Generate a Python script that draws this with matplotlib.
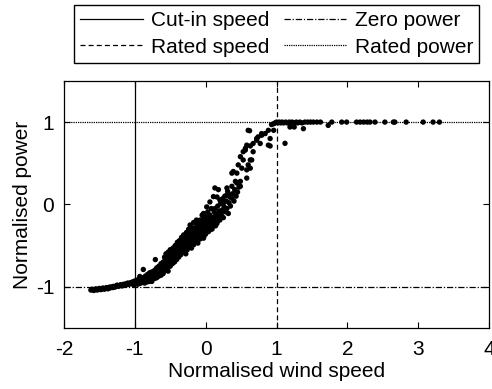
import matplotlib
matplotlib.use("Agg")
import matplotlib.pyplot as plt

plt.rcParams['font.family'] = ['Liberation Sans', 'DejaVu Sans']
plt.rcParams['axes.unicode_minus'] = False

# scatter of normalised wind speed vs normalised power
wind_speed = [
    # low tail
    -1.62, -1.60, -1.58, -1.56, -1.55, -1.53, -1.51, -1.50, -1.48, -1.46,
    -1.45, -1.43, -1.41, -1.40, -1.38, -1.36, -1.35, -1.33, -1.31, -1.30,
    -1.28, -1.26, -1.25, -1.23, -1.21, -1.20, -1.18, -1.16, -1.15, -1.13,
    -1.11, -1.10, -1.08, -1.06, -1.05, -1.03, -1.02, -1.01, -1.00, -0.99,
    # -1.0 .. -0.6
    -0.98, -0.97, -0.96, -0.95, -0.94, -0.93, -0.93, -0.92, -0.91, -0.90,
    -0.89, -0.88, -0.88, -0.87, -0.86, -0.86, -0.85, -0.84, -0.83, -0.82,
    -0.82, -0.81, -0.80, -0.79, -0.79, -0.78, -0.77, -0.76, -0.76, -0.75,
    -0.74, -0.73, -0.72, -0.71, -0.71, -0.70, -0.69, -0.69, -0.68, -0.67,
    -0.66, -0.66, -0.65, -0.64, -0.63, -0.63, -0.62, -0.61, -0.60, -0.60,
    -0.59,
    # -0.6 .. -0.3
    -0.58, -0.58, -0.57, -0.56, -0.56, -0.55, -0.54, -0.53, -0.53, -0.52,
    -0.51, -0.50, -0.50, -0.49, -0.48, -0.47, -0.46, -0.46, -0.45, -0.44,
    -0.43, -0.43, -0.42, -0.41, -0.40, -0.40, -0.39, -0.38, -0.37, -0.37,
    -0.36, -0.35, -0.34, -0.34, -0.33, -0.32, -0.31, -0.31, -0.30, -0.29,
    -0.28,
    # -0.3 .. 0.0
    -0.27, -0.27, -0.26, -0.25, -0.24, -0.23, -0.22, -0.22, -0.21, -0.20,
    -0.20, -0.19, -0.18, -0.17, -0.17, -0.16, -0.15, -0.15, -0.14, -0.13,
    -0.13, -0.12, -0.11, -0.11, -0.10, -0.09, -0.08, -0.08, -0.08, -0.07,
    -0.06, -0.05, -0.05, -0.04, -0.03, -0.03, -0.02, -0.01, -0.01, 0.00,
    0.01, 0.015, 0.015,
    # extra points filling the dense band
    -0.95, -0.92, -0.90, -0.87, -0.85, -0.84, -0.81, -0.80, -0.78, -0.77,
    -0.75, -0.73, -0.72, -0.70, -0.68, -0.67, -0.65, -0.64, -0.62, -0.61,
    -0.59, -0.57, -0.57, -0.55, -0.55, -0.54, -0.52, -0.51, -0.51, -0.49,
    -0.48, -0.47, -0.45, -0.45, -0.44, -0.42, -0.42, -0.41, -0.39, -0.39,
    -0.38, -0.36, -0.36, -0.35, -0.33, -0.33, -0.32, -0.30, -0.30, -0.29,
    -0.28, -0.26, -0.26, -0.25, -0.24, -0.23, -0.21, -0.21, -0.19, -0.18,
    -0.18, -0.16, -0.14, -0.14, -0.12, -0.12, -0.10, -0.10, -0.09, -0.07,
    -0.06, -0.04, -0.04, -0.02, -0.02, 0.00, 0.01, 0.03, 0.04, 0.06,
    0.07, 0.09, 0.10, 0.12, 0.14, 0.17, 0.19,
    # 0.0 .. 0.47
    0.02, 0.03, 0.04, 0.05, 0.06, 0.06, 0.07, 0.08, 0.09, 0.10,
    0.11, 0.11, 0.12, 0.13, 0.13, 0.14, 0.15, 0.16, 0.16, 0.17,
    0.18, 0.18, 0.19, 0.20, 0.20, 0.21, 0.22, 0.23, 0.24, 0.25,
    0.25, 0.26, 0.27, 0.28, 0.29, 0.30, 0.30, 0.30, 0.31, 0.32,
    0.33, 0.34, 0.345, 0.35, 0.37, 0.37, 0.37, 0.38, 0.39, 0.40,
    0.41, 0.42, 0.43, 0.44, 0.44, 0.45, 0.46, 0.47,
    # 0.47 .. 0.96 (sparse upper part)
    0.49, 0.49, 0.49, 0.51, 0.53, 0.53, 0.56, 0.56, 0.58, 0.58,
    0.58, 0.60, 0.60, 0.62, 0.63, 0.63, 0.63, 0.65, 0.67, 0.67,
    0.72, 0.72, 0.74, 0.77, 0.79, 0.79, 0.84, 0.885, 0.885, 0.91,
    0.91, 0.93, 0.96,
    # plateau
    0.96, 0.98, 1.00, 1.02, 1.04, 1.06, 1.08, 1.10, 1.12, 1.13,
    1.15, 1.18, 1.19, 1.20, 1.22, 1.25, 1.26, 1.28, 1.30, 1.33,
    1.36, 1.38, 1.40, 1.44, 1.48, 1.52, 1.57, 1.62, 1.73, 1.78,
    1.92, 1.99, 2.13, 2.18, 2.23, 2.28, 2.32, 2.39, 2.53, 2.65,
    2.67, 2.83, 3.07, 3.21, 3.30,
]
power = [
    # low tail
    -1.04, -1.03, -1.045, -1.035, -1.025, -1.04, -1.03, -1.02, -1.035, -1.025,
    -1.015, -1.03, -1.02, -1.01, -1.025, -1.005, -1.015, -1.00, -1.01, -0.995,
    -1.005, -0.99, -0.98, -0.995, -0.985, -0.975, -0.99, -0.97, -0.98, -0.965,
    -0.975, -0.955, -0.97, -0.95, -0.96, -0.94, -0.975, -0.955, -0.93, -0.96,
    # -1.0 .. -0.6
    -0.94, -0.92, -0.97, -0.95, -0.91, -0.875, -0.96, -0.93, -0.90, -0.95,
    -0.92, -0.79, -0.89, -0.94, -0.955, -0.90, -0.87, -0.92, -0.89, -0.85,
    -0.94, -0.91, -0.87, -0.935, -0.83, -0.89, -0.86, -0.935, -0.82, -0.90,
    -0.85, -0.88, -0.80, -0.67, -0.86, -0.83, -0.77, -0.89, -0.81, -0.85,
    -0.75, -0.87, -0.79, -0.83, -0.72, -0.86, -0.77, -0.81, -0.70, -0.84,
    -0.75,
    # -0.6 .. -0.3
    -0.64, -0.79, -0.71, -0.60, -0.76, -0.67, -0.73, -0.81, -0.58, -0.64,
    -0.70, -0.75, -0.55, -0.61, -0.67, -0.72, -0.53, -0.59, -0.64, -0.70,
    -0.50, -0.56, -0.61, -0.67, -0.46, -0.53, -0.58, -0.64, -0.44, -0.50,
    -0.55, -0.61, -0.40, -0.47, -0.52, -0.58, -0.37, -0.44, -0.49, -0.55,
    -0.60,
    # -0.3 .. 0.0
    -0.39, -0.34, -0.45, -0.51, -0.30, -0.41, -0.25, -0.47, -0.36, -0.53,
    -0.28, -0.43, -0.33, -0.49, -0.22, -0.39, -0.35, -0.45, -0.28, -0.19,
    -0.41, -0.33, -0.47, -0.24, -0.37, -0.29, -0.19, -0.42, -0.27, -0.34,
    -0.23, -0.38, -0.13, -0.30, -0.11, -0.41, -0.20, -0.31, -0.26, -0.36,
    -0.15, -0.03, -0.21,
    # extra points filling the dense band
    -0.93, -0.95, -0.92, -0.91, -0.93, -0.88, -0.88, -0.92, -0.85, -0.91,
    -0.87, -0.83, -0.90, -0.80, -0.87, -0.78, -0.84, -0.76, -0.82, -0.73,
    -0.81, -0.66, -0.76, -0.71, -0.79, -0.62, -0.75, -0.60, -0.67, -0.72,
    -0.57, -0.64, -0.69, -0.55, -0.61, -0.66, -0.52, -0.58, -0.63, -0.49,
    -0.55, -0.60, -0.46, -0.52, -0.57, -0.43, -0.49, -0.54, -0.40, -0.46,
    -0.51, -0.55, -0.37, -0.43, -0.48, -0.33, -0.44, -0.50, -0.38, -0.46,
    -0.29, -0.34, -0.42, -0.37, -0.44, -0.27, -0.32, -0.41, -0.22, -0.38,
    -0.30, -0.35, -0.18, -0.27, -0.38, -0.23, -0.32, -0.20, -0.26, -0.31,
    -0.17, -0.22, -0.27, -0.18, -0.14, -0.20, -0.12,
    # 0.0 .. 0.47
    -0.28, -0.09, -0.33, -0.18, 0.03, -0.13, -0.25, -0.05, -0.30, -0.16,
    0.095, -0.21, -0.09, -0.05, 0.20, -0.26, -0.12, 0.09, -0.23, -0.02,
    0.18, -0.15, -0.08, 0.055, -0.19, 0.01, -0.12, -0.07, 0.07, 0.015,
    -0.16, -0.03, 0.10, -0.09, 0.04, 0.20, 0.115, -0.05, 0.16, -0.11,
    0.02, 0.09, 0.115, -0.02, 0.22, 0.075, 0.38, 0.13, 0.40, 0.04,
    0.18, 0.28, 0.10, 0.26, 0.38, 0.15, 0.48, 0.21,
    # 0.47 .. 0.96
    0.58, 0.28, 0.22, 0.44, 0.54, 0.64, 0.66, 0.68, 0.72, 0.42,
    0.32, 0.48, 0.90, 0.895, 0.71, 0.54, 0.44, 0.54, 0.64, 0.74,
    0.78, 0.80, 0.82, 0.74, 0.84, 0.86, 0.86, 0.90, 0.72, 0.71,
    0.80, 0.97, 0.90,
    # plateau
    0.98, 0.99, 1.00, 0.99, 1.00, 0.99, 1.00, 0.99, 0.742, 1.00,
    0.99, 1.00, 0.94, 0.99, 1.00, 0.94, 0.99, 1.00, 0.99, 1.00,
    0.99, 0.92, 1.00, 1.00, 1.00, 1.00, 1.00, 1.00, 0.96, 1.00,
    1.00, 1.00, 1.00, 1.00, 1.00, 1.00, 1.00, 1.00, 1.00, 1.00,
    1.00, 1.00, 1.00, 1.00, 1.00,
]

cut_in_speed = -1
rated_speed = 1
zero_power = -1
rated_power = 1

fig = plt.figure(figsize=(4.92, 3.89), dpi=100)
ax = fig.add_axes([0.130, 0.157, 0.864, 0.635])

ax.scatter(wind_speed, power, s=15, c='black', edgecolors='none', zorder=3)

l1 = ax.axvline(cut_in_speed, color='black', lw=0.9, ls='-')
l2 = ax.axvline(rated_speed, color='black', lw=0.9, ls=(0, (4, 2.5)))
l3 = ax.axhline(zero_power, color='black', lw=0.9, ls=(0, (5, 1.5, 1, 1.5)))
l4 = ax.axhline(rated_power, color='black', lw=0.9, ls=(0, (1, 0.8)))

ax.set_xlim(-2, 4)
ax.set_ylim(-1.5, 1.5)
ax.set_xticks([-2, -1, 0, 1, 2, 3, 4])
ax.set_yticks([-1, 0, 1])
ax.tick_params(direction='in', top=True, right=True, length=4, width=0.8,
               labelsize=15, pad=7)
ax.tick_params(axis='x', pad=9)
for sp in ax.spines.values():
    sp.set_linewidth(0.9)

ax.set_xlabel('Normalised wind speed', fontsize=15, labelpad=2)
ax.set_ylabel('Normalised power', fontsize=15, labelpad=3)

fig.legend([l1, l2, l3, l4],
           ['Cut-in speed', 'Rated speed', 'Zero power', 'Rated power'],
           ncol=2, loc='upper center', bbox_to_anchor=(0.562, 0.987),
           fontsize=15, frameon=True, fancybox=False, edgecolor='black',
           framealpha=1, handlelength=3.0, handletextpad=0.4,
           columnspacing=0.7, borderpad=0.3, labelspacing=0.35,
           borderaxespad=0)

fig.savefig('out.png', dpi=100)
